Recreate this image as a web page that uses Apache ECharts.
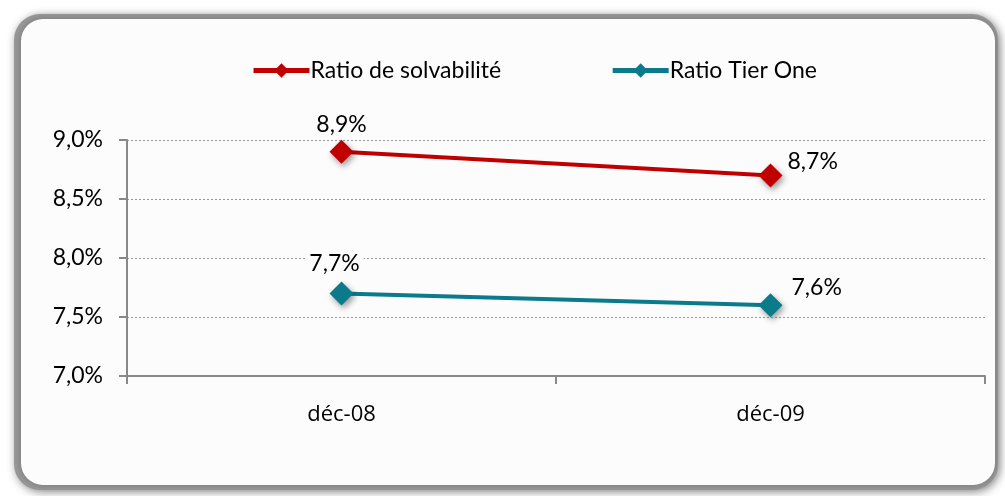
<!DOCTYPE html>
<html><head><meta charset="utf-8">
<script src="https://cdn.jsdelivr.net/npm/echarts@6/dist/echarts.min.js"></script>
<style>html,body{margin:0;padding:0;background:#fff;}#c{width:1005px;height:496px;}</style>
</head><body><div id="c"></div>
<script>
const categories = ['déc-08', 'déc-09'];
const seriesNames = ['Ratio de solvabilité', 'Ratio Tier One'];
const solvabilite = [8.9, 8.7];
const tierOne = [7.7, 7.6];
const yTicks = [7.0, 7.5, 8.0, 8.5, 9.0];

const fmt = v => v.toFixed(1).replace('.', ',') + '%';
const chart = echarts.init(document.getElementById('c'));

function mk(values, labelCfgs) {
  return values.map((v, i) => ({ value: v, label: labelCfgs[i] }));
}
const lblBase = { show: true, fontFamily: 'Lato', fontSize: 23, color: '#000', formatter: p => fmt(p.value) };

chart.setOption({
  animation: false,
  backgroundColor: '#fff',
  graphic: [
    { type: 'rect', z: -10, shape: { x: 14, y: 14, width: 984, height: 476, r: 26 },
      style: { fill: '#9a9a9a', shadowBlur: 10, shadowColor: 'rgba(0,0,0,0.45)', shadowOffsetX: 2, shadowOffsetY: 2 } },
    { type: 'rect', z: -9, shape: { x: 21, y: 19, width: 974, height: 466, r: 22 },
      style: { fill: '#fcfcfc', shadowBlur: 8, shadowColor: 'rgba(0,0,0,0.25)' } }
  ],
  legend: {
    top: 54, left: 246, itemGap: 109, itemWidth: 56, itemHeight: 18,
    textStyle: { fontFamily: 'Lato', fontSize: 23, color: '#000', padding: [0, 0, 0, -4] },
    data: seriesNames.map(n => ({ name: n, lineStyle: { width: 5 } }))
  },
  grid: { left: 127, right: 20, top: 140, bottom: 120 },
  xAxis: {
    type: 'category', data: categories, boundaryGap: true,
    axisLine: { lineStyle: { color: '#888', width: 2 } },
    axisTick: { show: true, length: 8, lineStyle: { color: '#888', width: 2 } },
    axisLabel: { fontFamily: 'Open Sans', fontSize: 22, color: '#000', margin: 28 }
  },
  yAxis: {
    type: 'value', min: yTicks[0], max: yTicks[yTicks.length - 1], interval: 0.5,
    axisLine: { show: true, lineStyle: { color: '#888', width: 2 } },
    axisTick: { show: true, length: 8, lineStyle: { color: '#888', width: 2 } },
    axisLabel: { fontFamily: 'Lato', fontSize: 23, color: '#000', margin: 24, formatter: v => fmt(v) },
    splitLine: { show: true, lineStyle: { color: '#999', type: [2, 2], width: 1 } }
  },
  series: [
    { name: seriesNames[0], type: 'line', data: mk(solvabilite, [
        Object.assign({}, lblBase, { position: 'top', distance: 4 }),
        Object.assign({}, lblBase, { position: 'right', offset: [0, -14] })
      ]),
      symbol: 'diamond', symbolSize: 24, color: '#C00000',
      lineStyle: { width: 4, color: '#C00000' },
      itemStyle: { color: '#C00000', shadowBlur: 6, shadowColor: 'rgba(0,0,0,0.4)', shadowOffsetX: 2, shadowOffsetY: 3 } },
    { name: seriesNames[1], type: 'line', data: mk(tierOne, [
        Object.assign({}, lblBase, { position: 'top', distance: 4, offset: [-7, 0], backgroundColor: '#fcfcfc', padding: [2, 4] }),
        Object.assign({}, lblBase, { position: 'right', offset: [4, -18] })
      ]),
      symbol: 'diamond', symbolSize: 24, color: '#0B7A8A',
      lineStyle: { width: 4, color: '#0B7A8A' },
      itemStyle: { color: '#0B7A8A', shadowBlur: 6, shadowColor: 'rgba(0,0,0,0.4)', shadowOffsetX: 2, shadowOffsetY: 3 } }
  ]
});
</script></body></html>
